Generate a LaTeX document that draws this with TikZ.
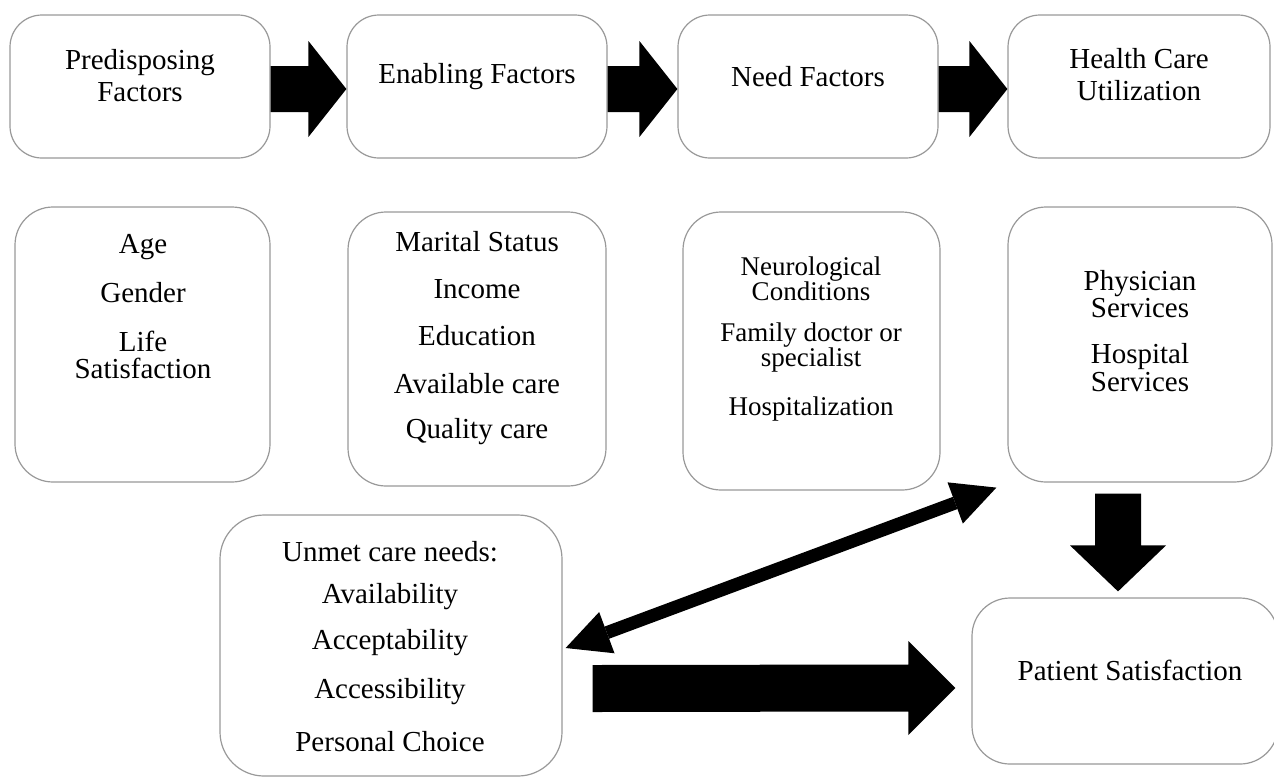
\documentclass[tikz,border=0pt]{standalone}
\usepackage{fontspec}
\setmainfont{Liberation Serif}
\usetikzlibrary{positioning,calc,arrows.meta}
\tikzset{
    box/.style={draw=black!40, line width=0.6pt, rounded corners=16pt, fill=white},
    lbl/.style={font=\fontsize{14.5}{#1}\selectfont, align=center, inner sep=0pt},
    lbl/.default=16pt,
}

\begin{document}
\begin{tikzpicture}[x=0.5pt, y=-0.5pt]
    \useasboundingbox (0,0) rectangle (1274,778);

    % Top row
    \node[box, minimum width=130pt, minimum height=71.5pt] (pre) at (140,86.5) {};
    \node[box, minimum width=130pt, minimum height=71.5pt] (ena) at (477,86.5) {};
    \node[box, minimum width=130pt, minimum height=71.5pt] (need) at (808,86.5) {};
    \node[box, minimum width=131pt, minimum height=71.5pt] (hcu) at (1139,86.5) {};

    \node[lbl] at (140,76) {Predisposing\\Factors};
    \node[lbl] at (477,77) {Enabling Factors};
    \node[lbl] at (808,77) {Need Factors};
    \node[lbl] at (1139,74.5) {Health Care\\Utilization};

    % Block arrows between the factors
    \foreach \a/\b in {pre/ena, ena/need, need/hcu}
        \fill ($(\a.east)+(0,-20.5)$) -- ($(\b.west)+(-38,-20.5)$) -- ($(\b.west)+(-38,-45.5)$)
            -- ($(\b.west)+(0,2.5)$) -- ($(\b.west)+(-38,50.5)$) -- ($(\b.west)+(-38,25.5)$)
            -- ($(\a.east)+(0,25.5)$) -- cycle;

    % Second row
    \node[box, rounded corners=19pt, minimum width=127.5pt, minimum height=137.5pt] (age) at (142.5,344.5) {};
    \node[box, rounded corners=19pt, minimum width=129pt, minimum height=137pt] (mar) at (477,349) {};
    \node[box, rounded corners=19pt, minimum width=128.5pt, minimum height=139pt] (neu) at (811.5,351) {};
    \node[box, rounded corners=19pt, minimum width=132pt, minimum height=137.5pt] (phy) at (1140,344.5) {};

    % Predisposing items
    \node[lbl] at (143,247) {Age};
    \node[lbl] at (143,293) {Gender};
    \node[lbl=13.5pt] at (143,354.5) {Life\\Satisfaction};

    % Enabling items
    \foreach \y/\label in {242/Marital Status, 289/Income, 336/Education, 384/Available care, 432/Quality care}
        \node[lbl] at (477,\y) {\label};

    % Need items
    \node[lbl, font=\fontsize{13.5}{12.5pt}\selectfont] at (811,278.5) {Neurological\\Conditions};
    \node[lbl, font=\fontsize{13.5}{12.5pt}\selectfont] at (811,347.5) {Family doctor or\\specialist};
    \node[lbl, font=\fontsize{13.5}{12.5pt}\selectfont] at (811,409) {Hospitalization};

    % Utilization items
    \node[lbl=13.5pt] at (1140,294.5) {Physician\\Services};
    \node[lbl=14pt] at (1140,368) {Hospital\\Services};

    % Bottom row
    \node[box, rounded corners=22pt, minimum width=171pt, minimum height=130.5pt] (unm) at (391,645.5) {};
    \node[box, rounded corners=19pt, minimum width=153pt, minimum height=83pt] (pat) at (1125,681) {};

    \foreach \y/\label in {552/Unmet care needs:, 597/Availability, 643/Acceptability, 692/Accessibility, 742/Personal Choice}
        \node[lbl] at (390,\y) {\label};
    \node[lbl] at (1130,670) {Patient Satisfaction};

    % Down arrow to satisfaction
    \coordinate (d0) at ($(phy.south)+(-22,11)$);
    \coordinate (d1) at ($(pat.north)+(-7,-6)$);
    \fill ($(d0)+(-23,0)$) -- ($(d1)+(-23,-46)$) -- ($(d1)+(-48,-46)$) -- (d1)
        -- ($(d1)+(48,-46)$) -- ($(d1)+(23,-46)$) -- ($(d0)+(23,0)$) -- cycle;

    % Right arrow to satisfaction
    \coordinate (r0) at ($(unm.east)+(30,43)$);
    \coordinate (r1) at ($(pat.west)+(-16,7)$);
    \fill ($(r0)+(0,-23.5)$) -- ($(r1)+(-47,-23.5)$) -- ($(r1)+(-47,-47)$) -- (r1)
        -- ($(r1)+(-47,47)$) -- ($(r1)+(-47,23.5)$) -- ($(r0)+(0,23.5)$) -- cycle;

    % Two-way arrow
    \draw[line width=6.5pt, {Triangle[length=22pt,width=22pt,line width=0pt]}-{Triangle[length=22pt,width=22pt,line width=0pt]}]
        ($(unm.east)+(3,2.5)$) -- ($(phy.south west)+(-11,5)$);
\end{tikzpicture}
\end{document}
